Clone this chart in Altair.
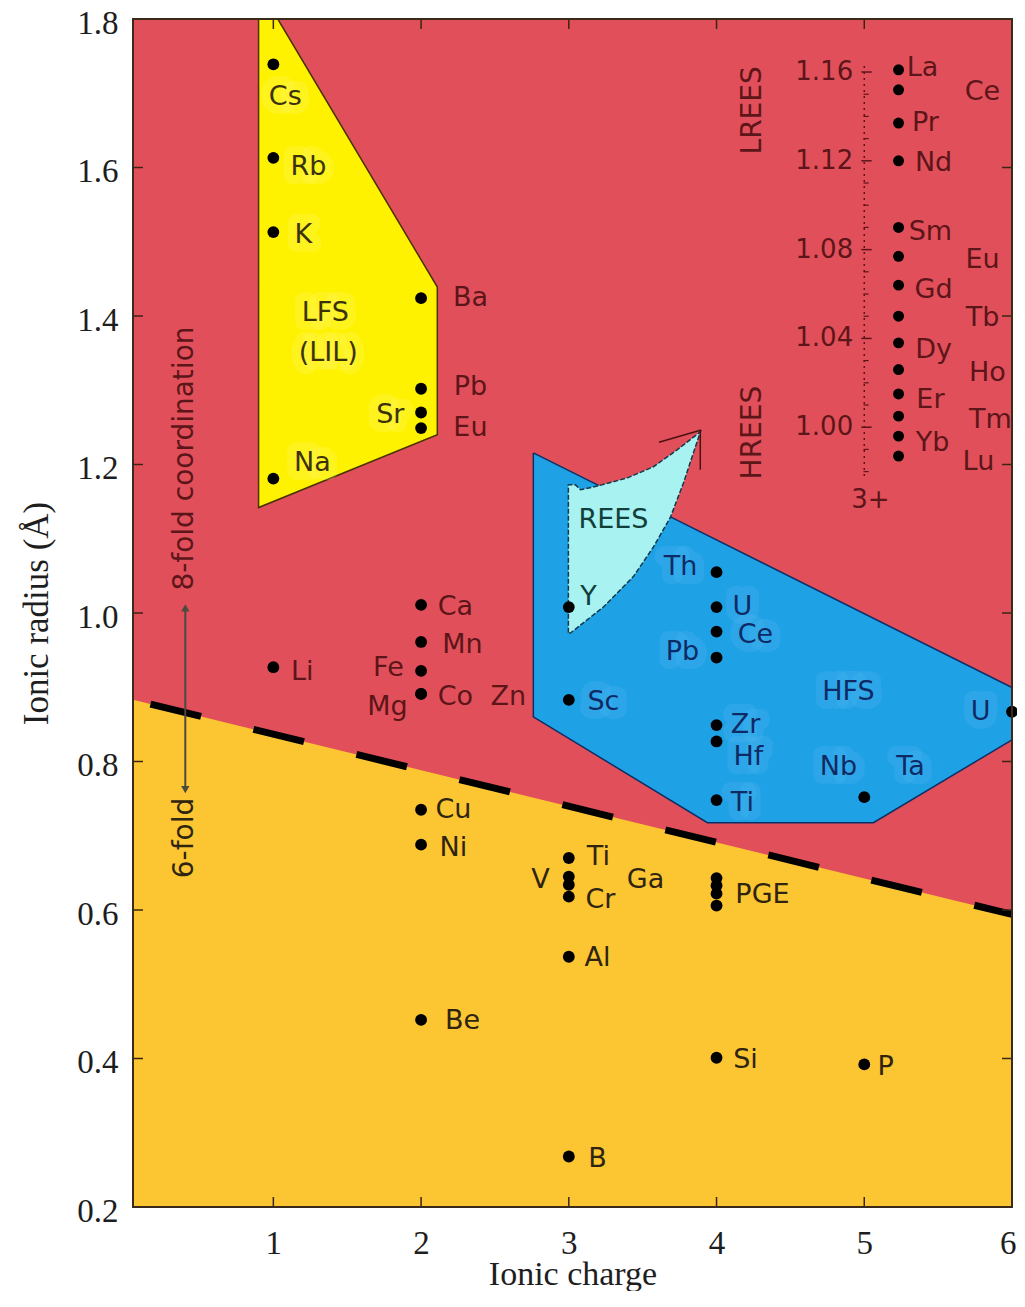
import altair as alt
import pandas as pd

# ------------------------------------------------------------------ data
# element points (ionic charge, ionic radius in Å)
pt_name = ["Cs", "Rb", "K", "Na", "Li",
           "Ba", "Pb", "Sr", "Eu", "Ca", "Mn", "Fe", "Mg", "Co", "Cu", "Ni", "Be",
           "Y", "Sc", "Ti", "V", "Ga", "Cr", "Al", "B",
           "Th", "U", "Ce", "Pb", "Zr", "Hf", "Ti", "PGE", "PGE", "PGE", "PGE", "Si",
           "Nb", "P", "U"]
pt_charge = [1, 1, 1, 1, 1,
             2, 2, 2, 2, 2, 2, 2, 2, 2, 2, 2, 2,
             3, 3, 3, 3, 3, 3, 3, 3,
             4, 4, 4, 4, 4, 4, 4, 4, 4, 4, 4, 4,
             5, 5, 6]
pt_radius = [1.739, 1.613, 1.513, 1.181, 0.927,
             1.424, 1.302, 1.270, 1.249, 1.011, 0.961, 0.922, 0.891, 0.891, 0.735, 0.688, 0.452,
             1.008, 0.883, 0.670, 0.645, 0.634, 0.618, 0.537, 0.268,
             1.055, 1.008, 0.975, 0.940, 0.849, 0.827, 0.748, 0.643, 0.633, 0.622, 0.606, 0.401,
             0.752, 0.392, 0.867]

# text labels (anchor in data units) and the field they sit in
lab_text = ["Cs", "Rb", "K", "Na", "LFS", "(LIL)", "Sr",
            "Ba", "Pb", "Eu", "Li", "Ca", "Mn", "Fe", "Co", "Zn", "Mg",
            "Cu", "Ni", "Be", "Ti", "V", "Ga", "Cr", "Al", "B", "PGE", "Si", "P",
            "Th", "U", "Ce", "Pb", "Sc", "HFS", "U", "Zr", "Hf", "Nb", "Ta", "Ti",
            "REES", "Y"]
lab_x = [1.081, 1.237, 1.203, 1.264, 1.352, 1.372, 1.792,
         2.334, 2.334, 2.334, 1.196, 2.232, 2.280, 1.779, 2.232, 2.591, 1.772,
         2.219, 2.219, 2.280, 3.200, 2.808, 3.519, 3.214, 3.194, 3.194, 4.311, 4.196, 5.144,
         3.756, 4.175, 4.263, 3.769, 3.234, 4.893, 5.787, 4.196, 4.216, 4.825, 5.313, 4.175,
         3.302, 3.133]
lab_y = [1.695, 1.601, 1.509, 1.202, 1.404, 1.350, 1.267,
         1.424, 1.305, 1.249, 0.921, 1.008, 0.957, 0.926, 0.887, 0.887, 0.874,
         0.735, 0.684, 0.450, 0.672, 0.641, 0.641, 0.614, 0.536, 0.264, 0.620, 0.398, 0.389,
         1.062, 1.008, 0.971, 0.948, 0.880, 0.894, 0.867, 0.849, 0.806, 0.793, 0.793, 0.744,
         1.125, 1.022]
lab_zone = ["yellow"] * 7 + ["red"] * 10 + ["orange"] * 12 + ["blue"] * 12 + ["cyan"] * 2

# rotated annotations
rot_text = ["8-fold coordination", "6-fold", "LREES", "HREES"]
rot_x = [0.404, 0.404, 4.25, 4.25]
rot_y = [1.208, 0.697, 1.677, 1.243]
rot_zone = ["red", "orange", "red", "red"]

# REE inset (3+ ions, magnified scale)
ree_name = ["La", "Ce", "Pr", "Nd", "Sm", "Eu", "Gd", "Tb", "Dy", "Ho", "Er", "Tm", "Yb", "Lu"]
ree_radius = [1.161, 1.152, 1.137, 1.120, 1.090, 1.077, 1.064, 1.050, 1.038, 1.026,
              1.015, 1.005, 0.996, 0.987]
ree_lab_x = [5.394, 5.800, 5.414, 5.469, 5.448, 5.800, 5.469, 5.800, 5.469, 5.834,
             5.448, 5.854, 5.462, 5.773]
ree_lab_y = [1.734, 1.702, 1.660, 1.606, 1.513, 1.476, 1.435, 1.397, 1.354, 1.323,
             1.287, 1.260, 1.229, 1.204]
inset_major = [1.00, 1.04, 1.08, 1.12, 1.16]
inset_minor = [0.98, 0.99, 1.01, 1.02, 1.03, 1.05, 1.06, 1.07, 1.09, 1.10,
               1.11, 1.13, 1.14, 1.15]
inset_span = [0.978, 1.163]

# field polygons
lfs_x = [0.90, 1.03, 2.11, 2.11, 0.90, 0.90]
lfs_y = [1.80, 1.80, 1.439, 1.240, 1.142, 1.80]
hfs_x = [2.760, 3.194, 3.688, 6.0, 6.0, 5.062, 3.938, 2.760, 2.760]
hfs_y = [1.2156, 1.1726, 1.1295, 0.8997, 0.8292, 0.7175, 0.7175, 0.8602, 1.2156]
rees_x = [2.997, 2.997, 3.045, 3.079, 3.194, 3.397, 3.573, 3.735, 3.891, 3.844,
          3.776, 3.688, 3.573, 3.437, 3.234, 3.011, 2.997]
rees_y = [0.9733, 1.1726, 1.1726, 1.166, 1.171, 1.182, 1.197, 1.220, 1.244, 1.216,
          1.175, 1.129, 1.089, 1.049, 1.008, 0.973, 0.9733]
tip_x = [3.61, 3.89, 3.89]
tip_y = [1.230, 1.246, 1.193]

# 6-fold / 8-fold boundary
bound_x = [0.05, 6.0]
bound_y = [0.883, 0.594]

# coordination arrow
arrow_x = [0.404, 0.404]
arrow_y = [1.007, 0.762]

x_ticks = [1, 2, 3, 4, 5, 6]
y_ticks = [0.2, 0.4, 0.6, 0.8, 1.0, 1.2, 1.4, 1.6, 1.8]

# ------------------------------------------------------------------ layout / style
W, H = 879, 1188
RED = "#E1505A"
ORANGE = "#FCC633"
YELLOW = "#FFF200"
BLUE = "#1FA1E6"
CYAN = "#A8F2F2"
MAROON = "#5c1519"
SANS = "DejaVu Sans"
FS = 27
ZONE_COLOR = {"red": MAROON, "yellow": "#3b3306", "orange": "#2e2410",
              "blue": "#0d2a66", "cyan": "#113f3a"}
HALO_COLOR = {"blue": "#63bff4", "yellow": "#fffa9a"}
INSET_X = 5.0
REE_X = 5.232
INSET_Y0, INSET_K = 1.7286, 2.99   # inset: radius 1.16 -> y 1.7286, 1 Å -> 2.99 Å

xs = alt.Scale(domain=[0.05, 6.0], nice=False, zero=False)
ys = alt.Scale(domain=[0.2, 1.8], nice=False, zero=False)
SERIF = "Liberation Serif"
xaxis = alt.Axis(title="Ionic charge", values=x_ticks, ticks=False, grid=False, domain=False,
                 labelFont=SERIF, labelFontSize=33, labelColor="#1e1e1e", labelPadding=20,
                 labelFlush=True, labelFlushOffset=4, titleFont=SERIF, titleFontSize=34,
                 titleFontWeight="normal", titleColor="#1e1e1e", titleBaseline="alphabetic",
                 titleY=77)
yaxis = alt.Axis(title="Ionic radius (Å)", values=y_ticks, format=".1f", ticks=False, grid=False,
                 domain=False, labelFont=SERIF, labelFontSize=33, labelColor="#1e1e1e",
                 labelPadding=15, labelFlush=False, labelOffset=4, titleFont=SERIF,
                 titleFontSize=35, titleFontWeight="normal", titleColor="#1e1e1e",
                 titlePadding=22)


def X(f):
    return alt.X(f"{f}:Q", scale=xs, axis=xaxis)


def Y(f):
    return alt.Y(f"{f}:Q", scale=ys, axis=yaxis)


# ------------------------------------------------------------------ frames
pts = pd.DataFrame({"name": pt_name, "x": pt_charge, "y": pt_radius})
labs = pd.DataFrame({"t": lab_text, "x": lab_x, "y": lab_y, "zone": lab_zone})
rots = pd.DataFrame({"t": rot_text, "x": rot_x, "y": rot_y, "zone": rot_zone})
ree = pd.DataFrame({"name": ree_name, "r": ree_radius})
ree["x"] = REE_X
ree["y"] = INSET_Y0 + (ree["r"] - 1.16) * INSET_K
ree_labs = pd.DataFrame({"t": ree_name, "x": ree_lab_x, "y": ree_lab_y})
imaj = pd.DataFrame({"r": inset_major})
imaj["y"] = INSET_Y0 + (imaj["r"] - 1.16) * INSET_K
imaj["x1"] = INSET_X - 0.02
imaj["x2"] = INSET_X + 0.05
imaj["lx"] = INSET_X - 0.075
imaj["lab"] = [f"{v:.2f}" for v in inset_major]
imin = pd.DataFrame({"r": inset_minor})
imin["y"] = INSET_Y0 + (imin["r"] - 1.16) * INSET_K
imin["x1"] = INSET_X - 0.005
imin["x2"] = INSET_X + 0.03
ispan = pd.DataFrame({"x": [INSET_X], "y1": [INSET_Y0 + (inset_span[0] - 1.16) * INSET_K],
                      "y2": [INSET_Y0 + (inset_span[1] - 1.16) * INSET_K]})
three_plus = pd.DataFrame({"t": ["3+"], "x": [5.042], "y": [1.152]})


def poly(xl, yl):
    return pd.DataFrame({"x": xl, "y": yl, "i": list(range(len(xl)))})


orange_df = pd.DataFrame({"x": bound_x, "y": bound_y, "y0": [0.2, 0.2]})

# ------------------------------------------------------------------ layers
orange = alt.Chart(orange_df).mark_area(color=ORANGE, opacity=1).encode(
    x=X("x"), y=Y("y"), y2="y0")

lfs = alt.Chart(poly(lfs_x, lfs_y)).mark_line(
    fill=YELLOW, stroke="#4a3200", strokeWidth=1.5).encode(
    x=X("x"), y=Y("y"), order="i:Q")
hfs = alt.Chart(poly(hfs_x, hfs_y)).mark_line(
    fill=BLUE, stroke="#0d2f66", strokeWidth=1.5).encode(
    x=X("x"), y=Y("y"), order="i:Q")
rees = alt.Chart(poly(rees_x, rees_y)).mark_line(
    fill=CYAN, stroke="#123a4a", strokeWidth=1.5, strokeDash=[5, 2]).encode(
    x=X("x"), y=Y("y"), order="i:Q")
tip = alt.Chart(poly(tip_x, tip_y)).mark_line(
    stroke="#4a1010", strokeWidth=1.5).encode(x=X("x"), y=Y("y"), order="i:Q")

boundary = alt.Chart(pd.DataFrame({"x": bound_x, "y": bound_y})).mark_line(
    color="black", strokeWidth=7, strokeDash=[52, 54], strokeDashOffset=88).encode(
    x=X("x"), y=Y("y"))

arrow_df = pd.DataFrame({"x": arrow_x, "y": arrow_y, "s": ["triangle-up", "triangle-down"]})
arrow_line = alt.Chart(arrow_df).mark_line(color="#4a4a40", strokeWidth=2).encode(
    x=X("x"), y=Y("y"))
arrow_heads = alt.Chart(arrow_df).mark_point(filled=True, size=70, color="#4a4a40", opacity=1).encode(
    x=X("x"), y=Y("y"),
    shape=alt.Shape("s:N", scale=alt.Scale(domain=["triangle-up", "triangle-down"],
                                           range=["triangle-up", "triangle-down"]), legend=None))

TICK = "#3a2416"
yt = pd.DataFrame({"v": y_ticks})
xt = pd.DataFrame({"v": x_ticks})
ticks_l = alt.Chart(yt).mark_rule(color=TICK, strokeWidth=1.5).encode(
    y=Y("v"), x=alt.value(0), x2=alt.value(10))
ticks_r = alt.Chart(yt).mark_rule(color=TICK, strokeWidth=1.5).encode(
    y=Y("v"), x=alt.value(W - 10), x2=alt.value(W))
ticks_b = alt.Chart(xt).mark_rule(color=TICK, strokeWidth=1.5).encode(
    x=X("v"), y=alt.value(H - 10), y2=alt.value(H))
ticks_t = alt.Chart(xt).mark_rule(color=TICK, strokeWidth=1.5).encode(
    x=X("v"), y=alt.value(0), y2=alt.value(10))

inset_line = alt.Chart(ispan).mark_rule(color=MAROON, strokeWidth=1.5, strokeDash=[2, 4]).encode(
    x=X("x"), y=Y("y1"), y2="y2")
inset_maj = alt.Chart(imaj).mark_rule(color=MAROON, strokeWidth=1.5).encode(
    x=X("x1"), x2="x2", y=Y("y"))
inset_min = alt.Chart(imin).mark_rule(color=MAROON, strokeWidth=1.2).encode(
    x=X("x1"), x2="x2", y=Y("y"))
inset_lab = alt.Chart(imaj).mark_text(font=SANS, fontSize=26, color=MAROON,
                                      align="right", baseline="middle").encode(
    x=X("lx"), y=Y("y"), text="lab:N")
three = alt.Chart(three_plus).mark_text(font=SANS, fontSize=26, color=MAROON).encode(
    x=X("x"), y=Y("y"), text="t:N")

dots = alt.Chart(pts).mark_circle(size=140, color="black", opacity=1).encode(x=X("x"), y=Y("y"))
ree_dots = alt.Chart(ree).mark_circle(size=120, color="black", opacity=1).encode(x=X("x"), y=Y("y"))

halos = []
for z, c in HALO_COLOR.items():
    halos.append(alt.Chart(labs).transform_filter(f"datum.zone == '{z}'").mark_text(
        font=SANS, fontSize=FS, strokeWidth=18, strokeJoin="round",
        stroke=c, color=c, strokeOpacity=0.45, opacity=0.45).encode(
        x=X("x"), y=Y("y"), text="t:N"))

texts = []
for z, c in ZONE_COLOR.items():
    texts.append(alt.Chart(labs).transform_filter(f"datum.zone == '{z}'").mark_text(
        font=SANS, fontSize=FS, color=c).encode(x=X("x"), y=Y("y"), text="t:N"))
    texts.append(alt.Chart(rots).transform_filter(f"datum.zone == '{z}'").mark_text(
        font=SANS, fontSize=28, angle=270, color=c).encode(x=X("x"), y=Y("y"), text="t:N"))

ree_texts = alt.Chart(ree_labs).mark_text(font=SANS, fontSize=FS, color=MAROON).encode(
    x=X("x"), y=Y("y"), text="t:N")

frame = alt.Chart(pd.DataFrame({"a": [0]})).mark_rect(
    fillOpacity=0, stroke="#3a2a1a", strokeWidth=2).encode(
    x=alt.value(0), x2=alt.value(W), y=alt.value(0), y2=alt.value(H))

chart = alt.layer(
    orange, lfs, hfs, rees, tip, boundary, arrow_line, arrow_heads,
    ticks_l, ticks_r, ticks_b, ticks_t,
    inset_line, inset_min, inset_maj, inset_lab, three,
    dots, ree_dots, *halos, *texts, ree_texts, frame
).properties(
    width=W, height=H,
    autosize=alt.AutoSizeParams(type="none"),
    padding={"left": 125, "top": 11, "right": 5, "bottom": 84},
    background="white",
).configure_view(fill=RED, stroke=None)

chart.save("out.html", embed_options={"renderer": "svg", "actions": False})
